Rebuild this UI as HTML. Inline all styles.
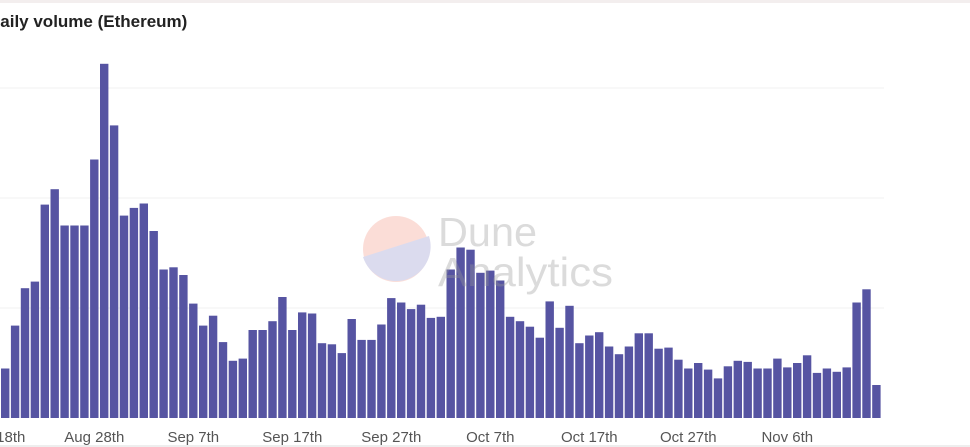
<!DOCTYPE html>
<html><head><meta charset="utf-8"><style>
html,body{margin:0;padding:0;background:#fff;width:970px;height:447px;overflow:hidden;font-family:"Liberation Sans",sans-serif;}
#top{position:absolute;left:0;top:0;width:970px;height:3px;background:#f3eeee;}
#bot{position:absolute;left:0;top:445px;width:970px;height:2px;background:#eee;}
#title{position:absolute;left:-12px;top:12px;font-size:17px;font-weight:bold;color:#222;white-space:nowrap;}
svg{position:absolute;left:0;top:0;}
</style></head><body>
<div id="top"></div>
<div id="title">Daily volume (Ethereum)</div>
<svg id="chart" width="970" height="447"></svg>
<div id="bot"></div>
<script>
const volumes=[45,84,118,124,194,208,175,175,175,235,322,266,184,191,195,170,135,137,130,104,84,93,69,52,54,80,80,88,110,80,96,95,68,67,59,90,71,71,85,109,105,99,103,91,92,135,155,153,132,134,125,92,88,83,73,106,82,102,68,75,78,65,58,65,77,77,63,64,53,45,50,44,36,47,52,51,45,45,54,46,50,57,41,45,42,46,105,117,30];
const tickLabels=["Aug 18th","Aug 28th","Sep 7th","Sep 17th","Sep 27th","Oct 7th","Oct 17th","Oct 27th","Nov 6th"];
const tickIndex=[-1,9,19,29,39,49,59,69,79];
const gridValues=[100,200,300];
const NS="http://www.w3.org/2000/svg";
const svg=document.getElementById('chart');
const x0=1,step=9.9,bw=8.4,base=418,k=1.1;
const xs=i=>x0+i*step;
const ys=v=>base-v*k;
function mk(t,a){const e=document.createElementNS(NS,t);for(const n in a)e.setAttribute(n,a[n]);svg.appendChild(e);return e;}
gridValues.forEach(g=>{
  const l=mk('line',{x1:0,x2:884,y1:ys(g),y2:ys(g),stroke:'#f0f0f0','stroke-width':1});
  
  
});
volumes.forEach((v,i)=>{
  const r=mk('rect',{x:xs(i),y:ys(v),width:bw,height:v*k,fill:'#5654a2'});
  
  
});
tickLabels.forEach((t,j)=>{
  const e=mk('text',{x:xs(tickIndex[j])+bw/2,y:442,'text-anchor':'middle','font-size':15,fill:'#555','font-family':'Liberation Sans, sans-serif'});
  e.textContent=t;
  
  
});
const g=document.createElementNS(NS,'g');g.setAttribute('opacity','0.35');svg.appendChild(g);


g.innerHTML='<circle cx="396" cy="249" r="33" fill="#f4a090"/><path d="M363 257 L429 236 A33 33 0 0 1 363 257Z" fill="#9b9bd0"/>'+
'<text x="438" y="246" font-size="41" fill="#999" font-family="Liberation Sans, sans-serif" textLength="99" lengthAdjust="spacingAndGlyphs">Dune</text>'+
'<text x="438" y="286" font-size="41" fill="#999" font-family="Liberation Sans, sans-serif" textLength="175" lengthAdjust="spacingAndGlyphs">Analytics</text>';
</script>
</body></html>
